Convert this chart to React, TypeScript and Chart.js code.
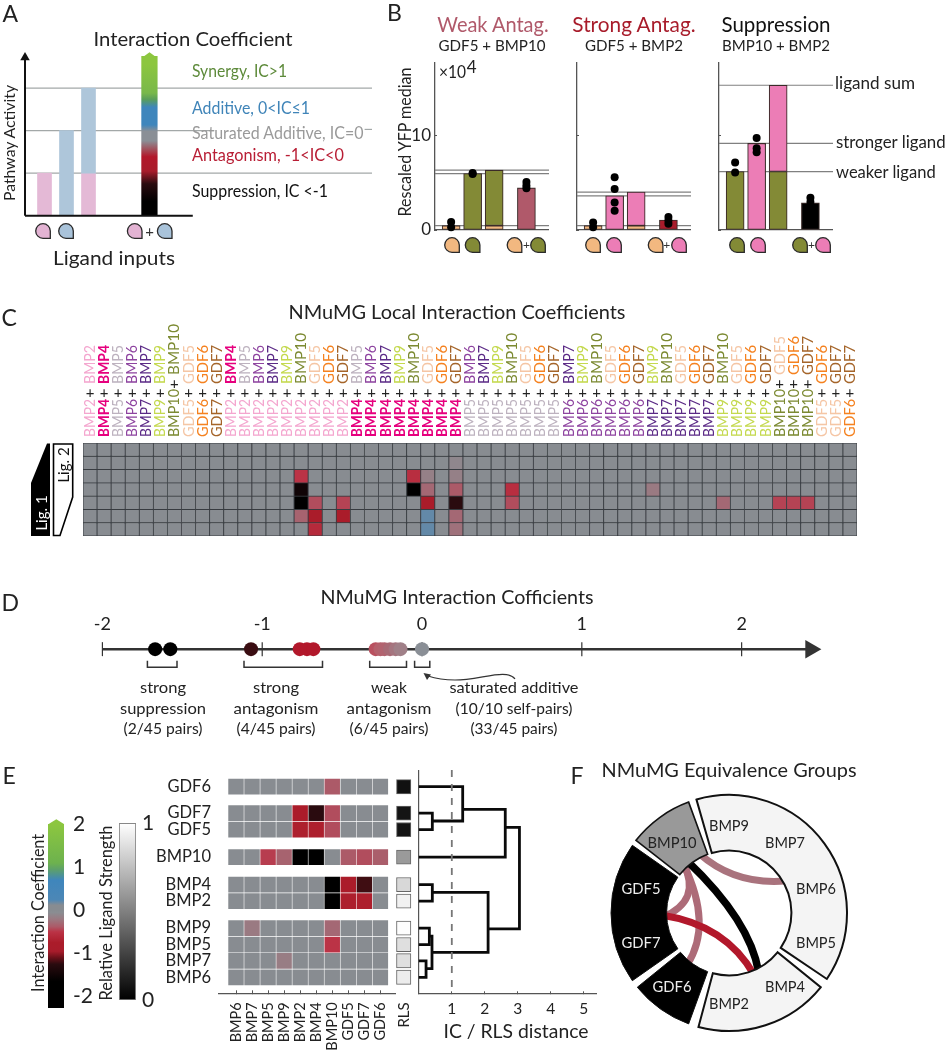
import React, { useEffect, useRef } from "react";
import { Chart, registerables } from "chart.js";
Chart.register(...registerables);

const FF = "Lato, 'Open Sans', sans-serif";
Chart.defaults.font.family = FF;
Chart.defaults.color = "#222";

/* ---------- colour map ---------- */
const icStopValues = [-2.27, -1.65, -1.25, -1.1, -0.95, -0.75, -0.5, -0.38, -0.2, -0.05, 0, 0.12, 0.25, 0.7, 0.95, 1.1, 2];
const icStopColors = ["#000000", "#000000", "#2a0b0f", "#6a1019", "#a81c2b", "#ab1c2a", "#bb3346", "#ac5a68", "#9a7a82", "#8a8d92", "#888c91", "#888c91", "#4c87b6", "#3f86bc", "#5da06a", "#6db24e", "#8cc63f"];
const hex = (c: string) => [1, 3, 5].map((i) => parseInt(c.slice(i, i + 2), 16));
function icColor(v: number) {
  if (v <= icStopValues[0]) return icStopColors[0];
  for (let i = 1; i < icStopValues.length; i++) {
    if (v <= icStopValues[i]) {
      const t = (v - icStopValues[i - 1]) / (icStopValues[i] - icStopValues[i - 1]);
      const a = hex(icStopColors[i - 1]), b = hex(icStopColors[i]);
      return `rgb(${a.map((x, k) => Math.round(x + (b[k] - x) * t)).join(",")})`;
    }
  }
  return icStopColors[icStopColors.length - 1];
}
function vGradient(c: any, from: number, to: number, fill: (g: CanvasGradient) => void) {
  const y = c.chart.scales.y;
  const p0 = y ? y.getPixelForValue(from) : NaN, p1 = y ? y.getPixelForValue(to) : NaN;
  if (!Number.isFinite(p0) || !Number.isFinite(p1)) return "#000";
  const g = c.chart.ctx.createLinearGradient(0, p0, 0, p1);
  fill(g);
  return g;
}

/* ---------- panel A ---------- */
const aBarSlot = [1, 2, 3, 3, 5.77];
const aBarLow = [0, 0, 0, 1, 0];
const aBarHigh = [1, 2, 1, 3, 3.75];
const aBarColors = ["#e4b9d6", "#aec6da", "#e4b9d6", "#aec6da", "#000"];
const aLevels = [1, 2, 3];
const aGradPos = [0, 0.09, 0.2, 0.28, 0.37, 0.42, 0.47, 0.53, 0.57, 0.68, 0.73, 0.77, 0.95];
const aGradCol = ["#000", "#000", "#2a0b0f", "#a81c2b", "#b2182b", "#a0545f", "#8a8f96", "#8a8f96", "#3f86bc", "#3f86bc", "#5a9e5a", "#79b84a", "#8cc63f"];

/* ---------- panel B ---------- */
const bSlots = [1, 2, 3, 4.5];
const weakSingle = [0.46, 5.95, 6.3, 4.44];
const weakUnder = [0, 0, 0.46, 0];
const weakDotsX = [1, 1, 2, 2, 4.5, 4.5, 4.5];
const weakDotsY = [0.85, 0.3, 5.9, 6.0, 5.07, 4.7, 4.4];
const weakLines = [0.46, 5.95, 6.3];
const strongSingle = [0.46, 3.6, 4.0, 1.05];
const strongUnder = [0, 0, 0.46, 0];
const strongDotsX = [1, 1, 2, 2, 2, 2, 4.5, 4.5, 4.5];
const strongDotsY = [0.3, 0.8, 5.56, 4.33, 2.89, 2.04, 1.37, 1.0, 0.67];
const strongLines = [0.46, 3.6, 4.0];
const suppSingle = [6.16, 9.12, 15.25, 2.85];
const suppUnder = [0, 0, 6.16, 0];
const suppDotsX = [1, 1, 2, 2, 2, 4.5, 4.5];
const suppDotsY = [7.1, 6.05, 9.7, 8.6, 8.2, 3.4, 2.95];
const suppLines = [6.16, 9.12, 15.25];
const PEACH = "#f2b880", OLIVE = "#838a36", PINK = "#ec7db6";

/* ---------- panel C ---------- */
const ligands = ["BMP2", "BMP4", "BMP5", "BMP6", "BMP7", "BMP9", "BMP10", "GDF5", "GDF6", "GDF7"];
const ligandColors: Record<string, string> = {
  BMP2: "#f4a6cf", BMP4: "#e6007e", BMP5: "#bdb2bf", BMP6: "#8e44a0", BMP7: "#5b2a86",
  BMP9: "#c4d94e", BMP10: "#7c8a32", GDF5: "#f5c6a5", GDF6: "#f58220", GDF7: "#a5652a",
};
const selfPairs = ligands.map((l) => [l, l]);
const crossPairs = ligands.flatMap((a, i) => ligands.slice(i + 1).map((b) => [a, b]));
const cPairs = [...selfPairs, ...crossPairs];
const cRowCount = 7;
// [column, row, interaction coefficient]; every other cell is 0
const cCells = [
  [15, 2, -0.5], [15, 3, -1.5], [15, 4, -2], [15, 5, -0.33],
  [16, 4, -0.42], [16, 5, -0.8], [16, 6, -0.6],
  [18, 4, -0.45], [18, 5, -0.8],
  [23, 2, -0.55], [23, 3, -2],
  [24, 2, -0.15], [24, 3, -0.3], [24, 4, -0.8], [24, 5, 0.2], [24, 6, 0.2],
  [26, 1, -0.1], [26, 2, -0.15], [26, 3, -0.38], [26, 4, -1.25], [26, 5, -0.3], [26, 6, -0.25],
  [30, 3, -0.55], [30, 4, -0.42],
  [40, 3, -0.2], [45, 4, -0.3],
  [49, 4, -0.45], [50, 4, -0.45], [51, 4, -0.45],
];

/* ---------- panel D ---------- */
const dValues = [-1.67, -1.575, -1.07, -0.765, -0.72, -0.68, -0.29, -0.26, -0.235, -0.2, -0.165, -0.135, 0];
const dColors = ["#000", "#000", "#3a0d12", "#b2182b", "#b2182b", "#b2182b", "#b9505f", "#b5606c", "#b2636f", "#a86a75", "#a5757f", "#a08088", "#8a8f96"];
const dTicks = [-2, -1, 0, 1, 2];

/* ---------- panel E ---------- */
const eCols = ["BMP6", "BMP7", "BMP5", "BMP9", "BMP2", "BMP4", "BMP10", "GDF5", "GDF7", "GDF6"];
const eRows = ["GDF6", "GDF7", "GDF5", "BMP10", "BMP4", "BMP2", "BMP9", "BMP5", "BMP7", "BMP6"];
const eRowSlots = [0, 1.6, 2.6, 4.27, 5.93, 6.93, 8.57, 9.57, 10.55, 11.55];
const eMatrix = [
  [0, 0, 0, 0, 0, 0, -0.38, 0, 0, 0],
  [0, 0, 0, 0, -0.75, -1.25, -0.42, 0, 0, 0],
  [0, 0, 0, 0, -0.72, -0.72, -0.42, 0, 0, 0],
  [0, 0, -0.47, -0.33, -2, -2, 0, -0.38, -0.42, -0.36],
  [0, 0, 0, 0, 0, 0, -2, -0.75, -1.2, 0],
  [0, 0, 0, 0, 0, 0, -2, -0.72, -0.72, 0],
  [0, -0.2, 0, 0, 0, 0, -0.3, 0, 0, 0],
  [0, 0, 0, 0, 0, 0, -0.5, 0, 0, 0],
  [0, 0, 0, -0.18, 0, 0, 0, 0, 0, 0],
  [0, 0, 0, 0, 0, 0, 0, 0, 0, 0],
];
const eRls = [0.05, 0.06, 0.06, 0.6, 0.85, 0.95, 1, 0.88, 0.88, 0.93];

/* dendrogram: children 0-9 are rows, 10+ are earlier merges */
const mergeLeft = [1, 0, 11, 4, 6, 8, 14, 13, 12];
const mergeRight = [2, 10, 3, 5, 7, 9, 15, 16, 17];
const mergeHeights = [0.41, 1.33, 2.62, 0.41, 0.32, 0.22, 0.4, 2.1, 3.05];
const mergeSlots = [2.08, 1.37, 2.46, 6.4, 9.05, 11.03, 10.04, 8.62, 5.5];

/* ---------- panel F ---------- */
const fSlices = ["BMP10", "", "BMP9-BMP5", "", "BMP2-BMP4", "", "GDF6", "", "GDF5-GDF7", ""];
const fAngles = [32, 4, 140, 5, 66, 5, 31, 4, 70, 3];
const fFill = ["#999999", "rgba(0,0,0,0)", "#f4f4f4", "rgba(0,0,0,0)", "#f4f4f4", "rgba(0,0,0,0)", "#000", "rgba(0,0,0,0)", "#000", "rgba(0,0,0,0)"];
const fBorder = [1.6, 0, 2, 0, 2, 0, 1, 0, 1, 0];
const linkFrom = [-26.6, -43, -43, -38.7, -92];
const linkTo = [61, -93.7, 219, 153.4, 158];
const linkBendAngle = [13, -65.5, 234, 110, 196];
const linkBendRadius = [0.45, 0.48, 0.32, 0.36, 0.2];
const linkColor = ["#a9737d", "#ad6b78", "#ad6b78", "#000000", "#b2182b"];
const linkWidth = [7, 7, 7, 7.5, 7];

/* ---------- helpers ---------- */
const measureCtx = document.createElement("canvas").getContext("2d")!;

type TP = { t: string; x: number; y: number; s: number; c?: string; a?: "s" | "m" | "e"; r?: boolean; w?: number; b?: number };
function T({ t, x, y, s, c = "#222", a = "m", r = false, w, b = 400 }: TP) {
  const pct = a === "s" ? 0 : a === "m" ? 50 : 100;
  let sx = 1;
  if (w) {
    measureCtx.font = `${b} ${s}px ${FF}`;
    sx = w / measureCtx.measureText(t).width;
  }
  return (
    <div
      style={{
        position: "absolute", left: x, top: y, whiteSpace: "nowrap", lineHeight: 1,
        fontFamily: FF, fontSize: s, color: c, fontWeight: b,
        transformOrigin: `${pct}% 50%`,
        transform: `translate(${-pct}%,-50%) ${r ? "rotate(-90deg)" : ""} scaleX(${sx})`,
      }}
    >
      {t}
    </div>
  );
}

function Plot({ x, y, w, h, make }: { x: number; y: number; w: number; h: number; make: () => any }) {
  const ref = useRef<HTMLCanvasElement>(null);
  useEffect(() => {
    const c = new Chart(ref.current!, make());
    return () => c.destroy();
  }, []);
  return <canvas ref={ref} width={w} height={h} style={{ position: "absolute", left: x, top: y, width: w, height: h }} />;
}

const base = (scales: any, extra: any = {}) => ({
  responsive: false, animation: false, events: [], layout: { padding: 0, autoPadding: false },
  plugins: { legend: { display: false }, tooltip: { enabled: false } },
  scales, ...extra,
});
const fit = (w?: number, h?: number) => (s: any) => {
  if (w !== undefined) s.width = w;
  if (h !== undefined) s.height = h;
  s.paddingLeft = s.paddingRight = s.paddingTop = s.paddingBottom = 0;
};
const noGrid = { display: false, drawTicks: false, offset: false };
const off = (min: number, max: number, reverse = false) => ({ type: "linear", display: false, offset: false, min, max, reverse });
const seg = (pts: number[][], color: string, width: number, extra: any = {}) => ({
  type: "scatter", showLine: true, data: pts.map(([x, y]) => ({ x, y })), borderColor: color, borderWidth: width,
  pointRadius: 0, fill: false, tension: 0, clip: false, order: 3, ...extra,
});

/* ---------- chart configs ---------- */
function panelA() {
  const xa = 0.114;
  return {
    type: "scatter",
    data: {
      datasets: [
        ...aLevels.filter((l) => l !== 2).map((l) => seg([[xa, l], [15.886, l]], "#a3a8a8", 1.2)),
        seg([[xa, 2], [8.72, 2]], "#a3a8a8", 1.2),
        seg([[15.55, 2.03], [15.886, 2.03]], "#a3a8a8", 1.2),
        {
          type: "bar", order: 2, barThickness: 14, borderWidth: 0,
          data: aBarSlot.slice(0, 4).map((x, i) => ({ x, y: [aBarLow[i], aBarHigh[i]] })),
          backgroundColor: aBarColors.slice(0, 4),
        },
        {
          type: "bar", order: 2, barThickness: 15.6, borderWidth: 0, grouped: false,
          data: [{ x: aBarSlot[4], y: [aBarLow[4], aBarHigh[4]] }],
          backgroundColor: (c: any) => vGradient(c, 0, 3.75, (g) => aGradPos.forEach((p, i) => g.addColorStop(p, aGradCol[i]))),
        },
        seg([[xa, 0], [7.74, 0]], "#111", 2, { order: 1 }),
        seg([[xa, 0], [xa, 3.7]], "#111", 2, { order: 1 }),
        {
          type: "scatter", order: 1, data: [{ x: xa, y: 3.72 }], pointStyle: "triangle", pointRadius: 5.5,
          pointBackgroundColor: "#111", pointBorderWidth: 0, clip: false,
        },
      ],
    },
    options: { ...base({ x: off(-0.341, 16.25), y: off(-0.219, 4.016) }), datasets: { bar: { grouped: false } } },
  };
}

function panelB(single: number[], under: number[], dx: number[], dy: number[], lines: number[], top: string, lower: string, combo: string, ticks: boolean, lowerColor: string) {
  const pts: any[] = [], cols: string[] = [];
  bSlots.forEach((x, i) => {
    if (under[i] > 0) {
      pts.push({ x, y: [0, under[i]] }); cols.push(lowerColor);
      pts.push({ x, y: [under[i], single[i]] }); cols.push(top);
    } else {
      pts.push({ x, y: [0, single[i]] });
      cols.push(i === 0 ? lowerColor : i === 1 ? top : combo);
    }
  });
  return {
    type: "scatter",
    data: {
      datasets: [
        ...lines.map((v) => seg([[0.25, v], [5.55, v]], "#808080", 1.2)),
        {
          type: "bar", order: 2, barThickness: 18, data: pts, backgroundColor: cols,
          borderColor: "#3a2a28", borderWidth: 1.1, borderSkipped: false,
        },
        {
          type: "scatter", order: 1, data: dx.map((x, i) => ({ x, y: dy[i] })), pointRadius: 4,
          pointBackgroundColor: "#000", pointBorderWidth: 0, clip: false,
        },
      ],
    },
    options: base({
      x: {
        type: "linear", offset: false, min: 0.25, max: 5.55, afterFit: fit(undefined, 10),
        ticks: { display: false }, grid: noGrid,
        border: { display: true, color: "#555", width: 1.3 },
      },
      y: {
        type: "linear", min: 0, max: 17.7, afterFit: fit(35, undefined),
        grid: { display: true, drawOnChartArea: false, tickLength: -2, color: "#555" },
        border: { display: true, color: "#555", width: 1.3 },
        ticks: {
          stepSize: 10, includeBounds: false, display: ticks, padding: 6, font: { size: 17 }, color: "#222",
        },
      },
    }),
  };
}

function panelC() {
  const rows = Array.from({ length: cRowCount }, (_, r) => {
    const values = cPairs.map((_p, c) => {
      const hit = cCells.find((k) => k[0] === c && k[1] === r);
      return hit ? hit[2] : 0;
    });
    return {
      data: values.map(() => 1), backgroundColor: values.map(icColor),
      borderColor: "#383c41", borderWidth: 0.8, borderSkipped: false, barPercentage: 1, categoryPercentage: 1,
    };
  });
  return {
    type: "bar",
    data: { labels: cPairs.map((p) => p.join("+")), datasets: rows },
    options: base({
      x: { display: false, stacked: true },
      y: { ...off(0, cRowCount, true), stacked: true },
    }),
  };
}

function panelD() {
  return {
    type: "scatter",
    data: {
      datasets: [
        {
          type: "scatter", order: 1, clip: false, pointRadius: 7, pointBorderWidth: 0,
          data: dValues.map((x) => ({ x, y: 0 })), pointBackgroundColor: dColors,
        },
        {
          type: "scatter", order: 2, clip: false, data: dTicks.map((x) => ({ x, y: 0 })), pointStyle: "line",
          pointRotation: 90, pointRadius: 7, pointBorderWidth: 1.2, pointBorderColor: "#333",
        },
        seg([[-2, 0], [2.43, 0]], "#333", 2.5, { order: 3 }),
        {
          type: "scatter", order: 2, clip: false, data: [{ x: 2.432, y: 0 }], pointStyle: "triangle",
          pointRotation: 90, pointRadius: 10.7, pointBackgroundColor: "#333", pointBorderWidth: 0,
        },
      ],
    },
    options: base({
      x: {
        type: "linear", position: "top", min: -2.2028, max: 2.553, afterFit: fit(undefined, 30.3),
        grid: noGrid, border: { display: false },
        ticks: { stepSize: 1, includeBounds: false, padding: 0, font: { size: 18 }, color: "#222", maxRotation: 0, callback: (v: number) => String(v) },
      },
      y: off(-1, 1),
    }),
  };
}

function icBar() {
  return {
    type: "scatter",
    data: {
      datasets: [{
        type: "bar", barThickness: 16, borderWidth: 0, data: [{ x: 0.5, y: [-2.27, 2] }],
        backgroundColor: (c: any) => vGradient(c, -2.27, 2, (g) => icStopValues.forEach((v, i) => g.addColorStop((v + 2.27) / 4.27, icStopColors[i]))),
      }],
    },
    options: base({
      x: off(0, 1),
      y: {
        type: "linear", position: "right", min: -2.269, max: 2.216, afterFit: fit(42, undefined),
        grid: noGrid, border: { display: false },
        ticks: { stepSize: 1, includeBounds: false, padding: 9, font: { size: 21 }, color: "#222", callback: (v: number) => String(v) },
      },
    }),
  };
}

function rlsBar() {
  return {
    type: "scatter",
    data: {
      datasets: [{
        type: "bar", barThickness: 16.6, borderWidth: 1, borderColor: "#888", borderSkipped: false, data: [{ x: 0.5, y: [0, 1] }],
        backgroundColor: (c: any) => vGradient(c, 0, 1, (g) => { g.addColorStop(0, "#000"); g.addColorStop(1, "#fff"); }),
      }],
    },
    options: base({
      x: { type: "linear", offset: false, min: 0, max: 1, afterFit: fit(undefined, 14), ticks: { display: false }, grid: noGrid, border: { display: false } },
      y: {
        type: "linear", position: "right", min: 0, max: 1.075, afterFit: fit(30, undefined),
        grid: noGrid, border: { display: false },
        ticks: { stepSize: 1, includeBounds: false, padding: 6, font: { size: 21 }, color: "#222" },
      },
    }),
  };
}

const rowTicks = (s: any) => { s.ticks = eRowSlots.map((value) => ({ value })); };

function heatE() {
  const pts: any[] = [], cols: string[] = [];
  eMatrix.forEach((row, r) => row.forEach((v, c) => {
    pts.push({ x: c, y: [eRowSlots[r] - 0.455, eRowSlots[r] + 0.455] });
    cols.push(icColor(v));
  }));
  return {
    type: "scatter",
    data: { datasets: [{ type: "bar", barThickness: 14.8, borderWidth: 0, data: pts, backgroundColor: cols }] },
    options: base({
      x: {
        type: "linear", offset: false, min: -1.06, max: 9.975, afterFit: fit(undefined, 56.7),
        afterBuildTicks: (s: any) => { s.ticks = eCols.map((_n, value) => ({ value })); },
        grid: { display: true, offset: false, drawOnChartArea: false, tickLength: -3, color: "#555" },
        border: { display: true, color: "#555", width: 1.2 },
        ticks: { autoSkip: false, minRotation: 90, maxRotation: 90, padding: 12, font: { size: 14.5 }, color: "#222", callback: (_v: any, i: number) => eCols[i] },
      },
      y: {
        type: "linear", reverse: true, min: -1.012, max: 12.52, afterFit: fit(69, undefined), afterBuildTicks: rowTicks,
        grid: noGrid, border: { display: false },
        ticks: { autoSkip: false, padding: 8, font: { size: 16.5 }, color: "#222", callback: (_v: any, i: number) => eRows[i] },
      },
    }),
  };
}

function rlsColumn() {
  return {
    type: "scatter",
    data: {
      datasets: [{
        type: "bar", barThickness: 14.4, borderWidth: 1, borderColor: "#666", borderSkipped: false,
        data: eRls.map((_v, r) => ({ x: 0, y: [eRowSlots[r] - 0.43, eRowSlots[r] + 0.43] })),
        backgroundColor: eRls.map((v) => { const g = Math.round(v * 248 + 5); return `rgb(${g},${g},${g})`; }),
      }],
    },
    options: base({
      x: {
        type: "linear", offset: false, min: -11.7, max: 12.3, afterFit: fit(undefined, 56.7),
        afterBuildTicks: (s: any) => { s.ticks = [{ value: 0 }]; },
        grid: noGrid, border: { display: false },
        ticks: { autoSkip: false, minRotation: 90, maxRotation: 90, padding: 9, font: { size: 15 }, color: "#222", callback: () => "RLS" },
      },
      y: off(-1.012, 12.52, true),
    }),
  };
}

function dendro() {
  const nodeX = (n: number) => (n < 10 ? 0 : mergeHeights[n - 10]);
  const nodeY = (n: number) => (n < 10 ? eRowSlots[n] : mergeSlots[n - 10]);
  const merges = mergeHeights.map((h, i) => {
    const a = mergeLeft[i], b = mergeRight[i];
    return seg([[nodeX(a), nodeY(a)], [h, nodeY(a)], [h, nodeY(b)], [nodeX(b), nodeY(b)]], "#0a0a0a", 2.8, { order: 2, borderJoinStyle: "miter" });
  });
  return {
    type: "scatter",
    data: { datasets: [...merges, seg([[1, -1.012], [1, 12.52]], "#777", 1.8, { order: 1, borderDash: [7, 7] })] },
    options: base({
      x: {
        type: "linear", min: 0, max: 5.4, afterFit: fit(undefined, 46.7),
        grid: { display: true, drawOnChartArea: false, tickLength: -2, color: "#555" },
        border: { display: true, color: "#555", width: 1.2 },
        ticks: { stepSize: 1, includeBounds: false, padding: 8, font: { size: 15.5 }, color: "#222", maxRotation: 0, callback: (v: number) => (v === 0 ? "" : String(v)) },
      },
      y: {
        type: "linear", reverse: true, min: -1.012, max: 12.52, afterFit: fit(8.8, undefined), afterBuildTicks: rowTicks,
        grid: { display: true, drawOnChartArea: false, tickLength: -2, color: "#555" },
        border: { display: true, color: "#555", width: 1.2 },
        ticks: { display: false },
      },
    }),
  };
}

function panelF() {
  const links = {
    id: "links",
    beforeDatasetsDraw(chart: any) {
      const arc = chart.getDatasetMeta(0).data[0];
      const { ctx } = chart;
      const pos = (deg: number, r: number) => {
        const a = (deg * Math.PI) / 180;
        return [arc.x + Math.sin(a) * r, arc.y - Math.cos(a) * r];
      };
      ctx.save();
      linkFrom.forEach((f, i) => {
        const [x0, y0] = pos(f, arc.innerRadius + 4);
        const [x1, y1] = pos(linkTo[i], arc.innerRadius + 4);
        const [cx, cy] = pos(linkBendAngle[i], arc.innerRadius * linkBendRadius[i]);
        ctx.beginPath();
        ctx.moveTo(x0, y0);
        ctx.quadraticCurveTo(cx, cy, x1, y1);
        ctx.strokeStyle = linkColor[i];
        ctx.lineWidth = linkWidth[i];
        ctx.stroke();
      });
      ctx.restore();
    },
  };
  return {
    type: "doughnut",
    data: {
      labels: fSlices,
      datasets: [{ data: fAngles, backgroundColor: fFill, borderColor: "#111", borderWidth: fBorder, borderJoinStyle: "miter", borderAlign: "center" }],
    },
    options: base(undefined, { rotation: 308, cutout: 64, radius: 118 }),
    plugins: [links],
  };
}

/* ---------- static marks ---------- */
const icon = (x: number, y: number, r: number, fill: string, key: string) => (
  <path key={key} d={`M${x},${y + r} A${r},${r} 0 1 1 ${x + r},${y} L${x + r},${y + r} Z`} fill={fill} stroke="#2a2a2a" strokeWidth={1.3} />
);
const bracket = (a: number, b: number) => <path key={a} d={`M${a},660.7 V667.3 H${b} V660.7`} fill="none" stroke="#333" strokeWidth={1.5} />;

export default function App() {
  const cLabels = cPairs.flatMap(([a, b], i) => {
    const x = 83 + (i + 0.5) * (774 / 55);
    const long = a === "BMP10";
    const bold = (n: string) => (n === "BMP4" ? 700 : 400);
    return [
      <T key={`l${i}`} t={a} x={x} y={436.5} s={15.5} c={ligandColors[a]} a="s" r b={bold(a)} w={long ? 48 : 38} />,
      <T key={`p${i}`} t="+" x={x} y={long ? 382.7 : 391.7} s={15} c="#222" />,
      <T key={`u${i}`} t={b} x={x} y={long ? 375 : 384} s={15.5} c={ligandColors[b]} a="s" r b={bold(b)} w={b === "BMP10" ? 51 : 39} />,
    ];
  });
  return (
    <div style={{ position: "absolute", left: 0, top: 0, width: 947, height: 1050, background: "#fff", overflow: "hidden" }}>
      <Plot x={15} y={45} w={365} h={180} make={panelA} />
      <Plot x={400} y={62} w={149} h={178} make={() => panelB(weakSingle, weakUnder, weakDotsX, weakDotsY, weakLines, OLIVE, PEACH, "#b0596a", true, PEACH)} />
      <Plot x={542} y={62} w={149} h={178} make={() => panelB(strongSingle, strongUnder, strongDotsX, strongDotsY, strongLines, PINK, PEACH, "#a81c2b", false, PEACH)} />
      <Plot x={684} y={62} w={149} h={178} make={() => panelB(suppSingle, suppUnder, suppDotsX, suppDotsY, suppLines, PINK, OLIVE, "#000", false, OLIVE)} />
      <Plot x={83} y={443} w={774} h={93} make={panelC} />
      <Plot x={70} y={605} w={760} h={58} make={panelD} />
      <Plot x={48} y={815} w={58} h={193} make={icBar} />
      <Plot x={119} y={810} w={47} h={204} make={rlsBar} />
      <Plot x={150} y={770} w={246} h={280} make={heatE} />
      <Plot x={392} y={770} w={24} h={280} make={rlsColumn} />
      <Plot x={410} y={770} w={187} h={270} make={dendro} />
      <Plot x={607} y={791} w={244} h={244} make={panelF} />

      <svg width={947} height={1050} style={{ position: "absolute", left: 0, top: 0, pointerEvents: "none" }}>
        <polygon points="141.7,58 149.5,52.3 157.3,58" fill="#8cc63f" />
        <polygon points="48.3,824.3 56.3,819.3 64.3,824.3" fill="#8cc63f" />
        {icon(43, 231, 7.3, "#e3b3d3", "a1")}
        {icon(66, 231, 7.3, "#a9c3da", "a2")}
        {icon(134.7, 231, 7.3, "#e3b3d3", "a3")}
        {icon(164.7, 231, 7.3, "#a9c3da", "a4")}
        {icon(452, 245, 7.3, PEACH, "b1")}
        {icon(472.6, 245, 7.3, OLIVE, "b2")}
        {icon(514.5, 245, 7.3, PEACH, "b3")}
        {icon(538, 245, 7.3, OLIVE, "b4")}
        {icon(593, 245, 7.3, PEACH, "b5")}
        {icon(614, 245, 7.3, PINK, "b6")}
        {icon(655.6, 245, 7.3, PEACH, "b7")}
        {icon(679, 245, 7.3, PINK, "b8")}
        {icon(737, 245, 7.3, OLIVE, "b9")}
        {icon(758, 245, 7.3, PINK, "b10")}
        {icon(800, 245, 7.3, OLIVE, "b11")}
        {icon(823, 245, 7.3, PINK, "b12")}
        <polygon points="31,536 50,536 50,443.5 47,443.5 31,483" fill="#000" />
        <polygon points="53.5,444 72.7,444 72.7,497 60,535.5 53.5,535.5" fill="#fff" stroke="#000" strokeWidth={1.6} />
        {bracket(147.4, 177)}
        {bracket(244, 322.5)}
        {bracket(369.7, 406.5)}
        {bracket(414.6, 429.8)}
        <path d="M515,679 C507,668 480,680 455,680 C442,680 434,678 428,676" fill="none" stroke="#333" strokeWidth={1.2} />
        <polygon points="423.5,673 431,674.5 427,680" fill="#333" />
      </svg>

      {/* panel letters */}
      <T t="A" x={2.5} y={13} s={23} a="s" />
      <T t="B" x={387} y={12} s={23} a="s" />
      <T t="C" x={1.5} y={317} s={23} a="s" />
      <T t="D" x={1.5} y={602} s={23} a="s" />
      <T t="E" x={2.5} y={775} s={23} a="s" />
      <T t="F" x={570.5} y={775} s={23} a="s" />

      {/* panel A */}
      <T t="Interaction Coefficient" x={192.5} y={39} s={19.5} w={199} />
      <T t="Synergy, IC>1" x={191.7} y={70.7} s={16.5} c="#5d8a3a" a="s" w={95} />
      <T t="Additive, 0<IC≤1" x={191.7} y={107.7} s={16.5} c="#3f84b8" a="s" w={118} />
      <T t="Saturated Additive, IC=0" x={191.7} y={132.7} s={16.5} c="#9a9a9a" a="s" w={172} />
      <T t="Antagonism, -1<IC<0" x={191.7} y={155} s={16.5} c="#b81e35" a="s" w={152} />
      <T t="Suppression, IC <-1" x={191.7} y={190.7} s={16.5} c="#111" a="s" w={136} />
      <T t="Pathway Activity" x={9.5} y={143.3} s={15.5} r w={117} />
      <T t="Ligand inputs" x={114.3} y={258} s={19.5} w={122} />
      <T t="+" x={149.7} y={231} s={15} c="#333" />

      {/* panel B */}
      <T t="Weak Antag." x={492.8} y={25} s={21.5} c="#b0596a" w={112} />
      <T t="GDF5 + BMP10" x={492} y={45} s={16} w={107} />
      <T t="Strong Antag." x={634} y={25} s={21.5} c="#a81c2b" w={124} />
      <T t="GDF5 + BMP2" x={634} y={45} s={16} w={98} />
      <T t="Suppression" x={776.4} y={25} s={21.5} c="#111" w={109} />
      <T t="BMP10 + BMP2" x={776.4} y={45} s={16} w={108} />
      <T t="Rescaled YFP median" x={405} y={142} s={16.5} r w={150} />
      <T t="×10" x={438.6} y={71} s={17} a="s" w={27} />
      <T t="4" x={466.8} y={66} s={17} a="s" />
      <T t="ligand sum" x={835} y={83} s={16.5} a="s" w={80} />
      <T t="stronger ligand" x={836} y={142} s={16.5} a="s" w={110} />
      <T t="weaker ligand" x={836} y={172} s={16.5} a="s" w={100} />
      <T t="+" x={526.5} y={245} s={12} c="#333" />
      <T t="+" x={666.8} y={245} s={12} c="#333" />
      <T t="+" x={811.5} y={245} s={12} c="#333" />

      {/* panel C */}
      <T t="NMuMG Local Interaction Coefficients" x={456.5} y={311.7} s={19.5} w={337} />
      {cLabels}
      <T t="Lig. 1" x={41} y={513} s={15} c="#fff" r />
      <T t="Lig. 2" x={63} y={465} s={15} c="#111" r />

      {/* panel D */}
      <T t="NMuMG Interaction Cofficients" x={456.5} y={596.7} s={19.5} w={273} />
      <T t="strong" x={162.6} y={687.3} s={16} w={46} />
      <T t="suppression" x={162.6} y={707.7} s={16} w={86} />
      <T t="(2/45 pairs)" x={162.6} y={728.3} s={16} w={79} />
      <T t="strong" x={276} y={687.3} s={16} w={46} />
      <T t="antagonism" x={276} y={707.7} s={16} w={85} />
      <T t="(4/45 pairs)" x={276} y={728.3} s={16} w={79} />
      <T t="weak" x={388.6} y={687.3} s={16} w={36} />
      <T t="antagonism" x={388.6} y={707.7} s={16} w={85} />
      <T t="(6/45 pairs)" x={388.6} y={728.3} s={16} w={79} />
      <T t="saturated additive" x={513.8} y={687.3} s={16} w={129} />
      <T t="(10/10 self-pairs)" x={513.8} y={707.7} s={16} w={117} />
      <T t="(33/45 pairs)" x={513.8} y={728.3} s={16} w={87} />

      {/* panel E */}
      <T t="Interaction Coefficient" x={36.7} y={912.5} s={17} r w={158} />
      <T t="Relative Ligand Strength" x={105} y={912.5} s={17} r w={175} />
      <T t="IC / RLS distance" x={516} y={1030} s={20} w={145} />

      {/* panel F */}
      <T t="NMuMG Equivalence Groups" x={728.5} y={770} s={19.5} w={255} />
      <T t="BMP9" x={729} y={825} s={16} w={40} />
      <T t="BMP7" x={784.5} y={842} s={16} w={40} />
      <T t="BMP6" x={816.3} y={888} s={16} w={40} />
      <T t="BMP5" x={816.3} y={942} s={16} w={40} />
      <T t="BMP4" x={785} y={986} s={16} w={40} />
      <T t="BMP2" x={729} y={1003} s={16} w={40} />
      <T t="GDF6" x={672} y={986} s={16} c="#eee" w={39} />
      <T t="GDF7" x={641} y={942} s={16} c="#eee" w={39} />
      <T t="GDF5" x={641} y={888} s={16} c="#eee" w={39} />
      <T t="BMP10" x={672} y={842} s={16} w={49} />
    </div>
  );
}
